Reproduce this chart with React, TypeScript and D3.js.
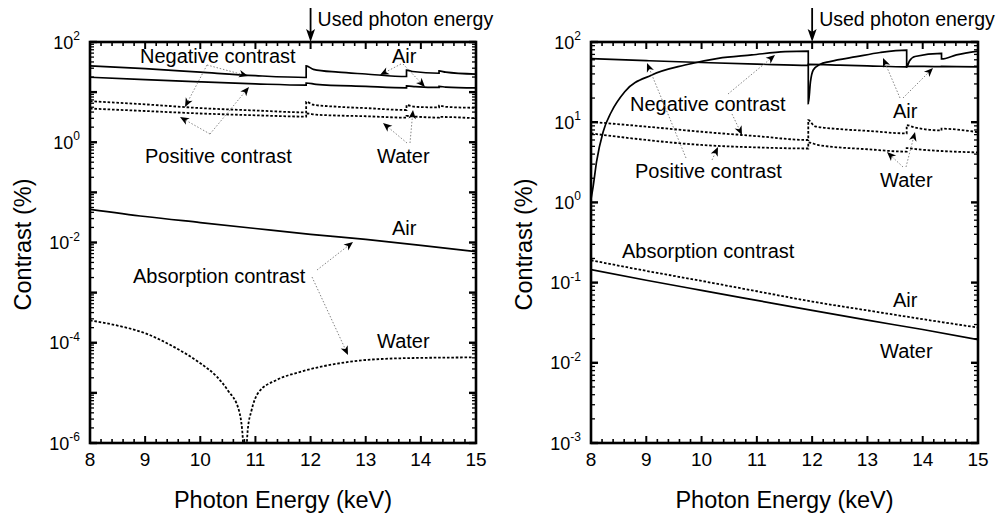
import React, { useEffect, useRef } from "react";
import * as d3 from "d3";

type Pt = [number, number];

// x axis
const energyTicks = [8, 9, 10, 11, 12, 13, 14, 15];
const usedEnergy = 12;

// left panel: contrast (%) vs photon energy
const leftAirNegative: Pt[] = [
  [8, 33.5], [9, 29.5], [10, 25], [11, 21.3], [11.92, 19.6], [11.92, 33.5], [12.05, 28.5],
  [12.5, 25], [13, 23], [13.74, 20.5], [13.74, 27.5], [13.85, 25.8], [14.33, 23.8],
  [14.33, 26.5], [14.45, 25], [15, 22.8],
];
const leftAirPositive: Pt[] = [
  [8, 19.8], [9, 17.8], [10, 16], [11, 14.6], [11.92, 13.8], [11.92, 15.2], [12.1, 14.3],
  [13, 13], [13.74, 12.2], [13.74, 13.3], [13.9, 12.9], [14.33, 12.4], [14.33, 13],
  [14.45, 12.6], [15, 12.1],
];
const leftWaterNegative: Pt[] = [
  [8, 6.6], [9, 5.7], [10, 4.8], [11, 4.3], [11.92, 3.95], [11.92, 6.4], [12.05, 5.6],
  [12.5, 5.1], [13, 4.8], [13.74, 4.4], [13.74, 5.5], [13.9, 5.1], [14.33, 4.95],
  [14.33, 5.4], [14.45, 5.1], [15, 4.85],
];
const leftWaterPositive: Pt[] = [
  [8, 4.7], [9, 4.2], [10, 3.75], [11, 3.45], [11.92, 3.25], [11.92, 3.75], [12.1, 3.55],
  [13, 3.3], [13.74, 3.1], [13.74, 3.35], [13.9, 3.25], [14.33, 3.1], [14.33, 3.2], [15, 3.0],
];
const leftAbsAir: Pt[] = [
  [8, 0.046], [9, 0.033], [10, 0.025], [11, 0.019], [12, 0.0145], [13, 0.0115], [14, 0.0088], [15, 0.0066],
];
const leftAbsWater: Pt[] = [
  [8, 2.8e-4], [8.5, 2.2e-4], [9, 1.55e-4], [9.5, 8.5e-5], [10, 3.9e-5], [10.3, 2.1e-5],
  [10.5, 1.12e-5], [10.7, 4.5e-6], [10.76, 1.8e-6], [10.81, 3e-7], [10.86, 1.8e-6],
  [10.93, 4.5e-6], [11.05, 1e-5], [11.38, 1.8e-5], [11.8, 2.6e-5], [12.66, 4.1e-5],
  [13.63, 4.9e-5], [14.95, 5.1e-5],
];

// right panel
const rightAirNegative: Pt[] = [
  [8, 1.1], [8.04, 1.6], [8.1, 3.2], [8.22, 7.6], [8.37, 13.5], [8.61, 24], [9.1, 38.8],
  [9.7, 51.6], [10.3, 62.6], [10.91, 69], [11.51, 75.7], [11.93, 77], [11.93, 17],
  [11.97, 32], [12.02, 44.7], [12.14, 52.6], [12.32, 57], [12.8, 65.6], [13.23, 74],
  [13.71, 79.4], [13.71, 49], [13.76, 58], [13.86, 66], [14.34, 72], [14.34, 61.5],
  [14.61, 69], [15, 77],
];
const rightAirPositive: Pt[] = [
  [8, 62], [9, 58.5], [10, 55.5], [11, 53], [11.93, 51], [11.93, 52.5], [12.5, 51.5],
  [13, 50.5], [13.71, 49], [13.71, 49.8], [14.34, 49.3], [14.34, 49.8], [15, 49],
];
const rightWaterNegative: Pt[] = [
  [8, 10.1], [9, 8.8], [10, 7.6], [11, 6.7], [11.93, 6.0], [11.93, 10.6], [12.05, 8.9],
  [12.5, 8.2], [13, 7.8], [13.71, 7.25], [13.71, 9.2], [13.85, 8.6], [14.34, 7.9],
  [14.34, 8.3], [15, 7.5],
];
const rightWaterPositive: Pt[] = [
  [8, 7.25], [9, 6.0], [10, 5.2], [11, 4.85], [11.93, 4.7], [11.93, 5.6], [12.1, 5.2],
  [13, 4.6], [13.71, 4.3], [13.71, 4.75], [13.9, 4.6], [15, 4.2],
];
const rightAbsDotted: Pt[] = [
  [8, 0.19], [9, 0.14], [10, 0.105], [11, 0.078], [12, 0.058], [13, 0.045], [14, 0.035], [15, 0.0275],
];
const rightAbsSolid: Pt[] = [
  [8, 0.145], [9, 0.107], [10, 0.08], [11, 0.06], [12, 0.045], [13, 0.034], [14, 0.026], [15, 0.0195],
];

const FONT = "'Liberation Sans', Arial, Helvetica, sans-serif";

// layout of the two panels (pixels); annotations are relative to plot top-left
const panels = [
  {
    id: "a", left: 90, top: 42, width: 386, height: 401, yMin: 1e-6, yMax: 1e2, labelEvery: 2, yTitleX: 31,
    series: [
      { data: leftAirNegative, dot: false }, { data: leftAirPositive, dot: false },
      { data: leftWaterNegative, dot: true }, { data: leftWaterPositive, dot: true },
      { data: leftAbsAir, dot: false }, { data: leftAbsWater, dot: true },
    ],
    texts: [
      ["Negative contrast", 50, 21], ["Air", 302, 21], ["Positive contrast", 55, 121], ["Water", 287, 121],
      ["Air", 302, 193], ["Absorption contrast", 43, 241], ["Water", 287, 306],
    ] as [string, number, number][],
    leaders: [
      [117, 23, 158, 34], [117, 23, 95, 65], [120, 92, 159, 45], [120, 92, 90, 75],
      [311, 22, 290, 33], [313, 22, 335, 45], [317, 101, 293, 81], [320, 101, 323, 68],
      [227, 228, 263, 200], [222, 235, 258, 313],
    ],
  },
  {
    id: "b", left: 591, top: 42, width: 387, height: 401, yMin: 1e-3, yMax: 1e2, labelEvery: 1, yTitleX: 532,
    series: [
      { data: rightAirNegative, dot: false }, { data: rightAirPositive, dot: false },
      { data: rightWaterNegative, dot: true }, { data: rightWaterPositive, dot: true },
      { data: rightAbsDotted, dot: true }, { data: rightAbsSolid, dot: false },
    ],
    texts: [
      ["Negative contrast", 39, 69], ["Positive contrast", 44, 136], ["Air", 302, 76], ["Water", 289, 145],
      ["Absorption contrast", 31, 216], ["Air", 302, 265], ["Water", 289, 316],
    ] as [string, number, number][],
    leaders: [
      [95, 116, 56, 21], [137, 52, 184, 13], [141, 72, 151, 93], [121, 118, 127, 105],
      [309, 56, 292, 16], [312, 56, 342, 26], [312, 125, 296, 110], [315, 125, 324, 90],
    ],
  },
];

type PanelCfg = (typeof panels)[number];

function Panel({ cfg }: { cfg: PanelCfg }) {
  const ref = useRef<SVGGElement>(null);

  useEffect(() => {
    const g = d3.select(ref.current);
    g.selectAll("*").remove();
    const { width, height } = cfg;
    const x = d3.scaleLinear().domain([8, 15]).range([0, width]);
    const y = d3.scaleLog().domain([cfg.yMin, cfg.yMax]).range([height, 0]);

    g.append("clipPath").attr("id", "clip-" + cfg.id)
      .append("rect").attr("width", width).attr("height", height);

    // curves (monotone between points, vertical jumps at the edges)
    const line = d3.line<Pt>().x((d) => x(d[0])).y((d) => y(d[1])).curve(d3.curveMonotoneX);
    const curves = g.append("g").attr("clip-path", `url(#clip-${cfg.id})`);
    cfg.series.forEach((s) => {
      curves.append("path")
        .attr("d", line(s.data))
        .attr("fill", "none")
        .attr("stroke", "#000")
        .attr("stroke-width", s.dot ? 1.8 : 1.7)
        .attr("stroke-dasharray", s.dot ? "2.6,1.8" : null);
    });

    // ticks
    const ticks = g.append("g").attr("stroke", "#000");
    const minorX = d3.range(8, 15.001, 0.2).filter((v) => Math.abs(v - Math.round(v)) > 0.01);
    energyTicks.forEach((v) => {
      ticks.append("line").attr("x1", x(v)).attr("x2", x(v)).attr("y1", height).attr("y2", height - 7).attr("stroke-width", 2);
      ticks.append("line").attr("x1", x(v)).attr("x2", x(v)).attr("y1", 0).attr("y2", 7).attr("stroke-width", 2);
    });
    minorX.forEach((v) => {
      ticks.append("line").attr("x1", x(v)).attr("x2", x(v)).attr("y1", height).attr("y2", height - 4).attr("stroke-width", 1.6);
      ticks.append("line").attr("x1", x(v)).attr("x2", x(v)).attr("y1", 0).attr("y2", 4).attr("stroke-width", 1.6);
    });
    const lo = Math.round(Math.log10(cfg.yMin));
    const hi = Math.round(Math.log10(cfg.yMax));
    for (let p = lo; p <= hi; p++) {
      const yy = y(Math.pow(10, p));
      ticks.append("line").attr("x1", 0).attr("x2", 7).attr("y1", yy).attr("y2", yy).attr("stroke-width", 2.4);
      ticks.append("line").attr("x1", width).attr("x2", width - 7).attr("y1", yy).attr("y2", yy).attr("stroke-width", 2.4);
      if (p < hi) {
        for (let k = 2; k <= 9; k++) {
          const ym = y(k * Math.pow(10, p));
          ticks.append("line").attr("x1", 0).attr("x2", 4).attr("y1", ym).attr("y2", ym).attr("stroke-width", 1.3);
          ticks.append("line").attr("x1", width).attr("x2", width - 4).attr("y1", ym).attr("y2", ym).attr("stroke-width", 1.3);
        }
      }
      if ((p - lo) % cfg.labelEvery === 0) {
        const t = g.append("text").attr("x", -10).attr("y", yy + 6.5)
          .attr("text-anchor", "end").attr("font-size", 18).attr("font-family", FONT);
        t.append("tspan").text("10");
        t.append("tspan").attr("dy", -8.5).attr("font-size", 12).text(String(p));
      }
    }

    // frame
    g.append("rect").attr("width", width).attr("height", height)
      .attr("fill", "none").attr("stroke", "#000").attr("stroke-width", 2.6);

    // x tick labels
    energyTicks.forEach((v) => {
      g.append("text").attr("x", x(v)).attr("y", height + 23).attr("text-anchor", "middle")
        .attr("font-size", 19).attr("font-family", FONT).text(String(v));
    });

    // used photon energy arrow
    const ux = x(usedEnergy);
    g.append("line").attr("x1", ux).attr("x2", ux).attr("y1", -34).attr("y2", -8)
      .attr("stroke", "#000").attr("stroke-width", 1.8);
    g.append("path").attr("d", `M${ux},0 L${ux - 4.5},-13 L${ux},-10 L${ux + 4.5},-13 Z`).attr("fill", "#000");
    g.append("text").attr("x", ux + 7).attr("y", -16).attr("font-size", 19.5)
      .attr("font-family", FONT).text("Used photon energy");

    // annotation texts
    cfg.texts.forEach(([s, tx, ty]) => {
      g.append("text").attr("x", tx).attr("y", ty).attr("font-size", 20)
        .attr("font-family", FONT).text(s);
    });

    // leader lines with arrowheads
    cfg.leaders.forEach(([x1, y1, x2, y2]) => {
      const ang = Math.atan2(y2 - y1, x2 - x1);
      const bx = x2 - Math.cos(ang) * 6;
      const by = y2 - Math.sin(ang) * 6;
      g.append("line").attr("x1", x1).attr("y1", y1).attr("x2", bx).attr("y2", by)
        .attr("stroke", "#777").attr("stroke-width", 0.9).attr("stroke-dasharray", "1.5,1.8");
      g.append("path").attr("d", "M0,0 L-9,-3.8 L-6.5,0 L-9,3.8 Z").attr("fill", "#000")
        .attr("transform", `translate(${x2},${y2}) rotate(${(ang * 180) / Math.PI})`);
    });

    // axis titles
    g.append("text").attr("x", width / 2).attr("y", height + 65).attr("text-anchor", "middle")
      .attr("font-size", 23.5).attr("font-family", FONT).text("Photon Energy (keV)");
    g.append("text")
      .attr("transform", `translate(${cfg.yTitleX - cfg.left},${height / 2 + 2}) rotate(-90)`)
      .attr("text-anchor", "middle").attr("font-size", 23.5).attr("font-family", FONT)
      .text("Contrast (%)");
  }, [cfg]);

  return <g ref={ref} transform={`translate(${cfg.left},${cfg.top})`} />;
}

export default function App() {
  return (
    <svg width={1006} height={517} style={{ position: "absolute", left: 0, top: 0, background: "#fff" }}>
      <rect width={1006} height={517} fill="#fff" />
      {panels.map((p) => (
        <Panel key={p.id} cfg={p} />
      ))}
    </svg>
  );
}
